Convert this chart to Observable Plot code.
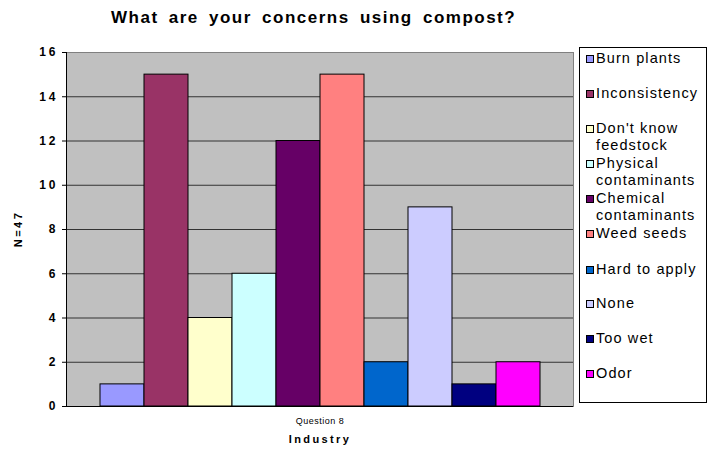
<!DOCTYPE html>
<html>
<head>
<meta charset="utf-8">
<script src="https://cdn.jsdelivr.net/npm/d3@7"></script>
<script src="https://cdn.jsdelivr.net/npm/@observablehq/plot@0.6"></script>
<style>
  html, body { margin: 0; padding: 0; background: white; }
  #wrap { position: relative; width: 715px; height: 449px; font-family: "Liberation Sans", Arial, sans-serif; }
  #chart { position: absolute; left: 0; top: 0; }
  .title { position: absolute; left: 111px; width: 400px; top: 8px; line-height: 20px; text-align: center; font-weight: bold; font-size: 17px; letter-spacing: 1.5px; word-spacing: 4px; white-space: nowrap; }
  .xcat { position: absolute; left: 280px; width: 80px; top: 416px; line-height: 11px; text-align: center; font-size: 9px; letter-spacing: 0.5px; }
  .xlabel { position: absolute; left: 270px; width: 100px; top: 433px; line-height: 13px; text-align: center; font-weight: bold; font-size: 11px; letter-spacing: 2.4px; }
  .ylabel { position: absolute; left: 18px; top: 229px; transform: translate(-50%, -50%) rotate(-90deg); font-weight: bold; font-size: 11px; letter-spacing: 2.5px; white-space: nowrap; }
  #legend { position: absolute; left: 579px; top: 47px; width: 128px; height: 356px; border: 1px solid #000; box-sizing: border-box; background: white; }
  .li { position: absolute; left: 6px; font-size: 14.5px; line-height: 17.5px; letter-spacing: 1.1px; color: #000; }
  .sw { position: absolute; left: 0; top: 5px; width: 6px; height: 6px; border: 1px solid #000; }
  .lt { margin-left: 10px; white-space: pre; }
</style>
</head>
<body>
<div id="wrap">
  <div id="chart"></div>
  <div class="title" id="title"></div>
  <div class="xcat" id="xcat"></div>
  <div class="xlabel" id="xlabel"></div>
  <div class="ylabel" id="ylabel"></div>
  <div id="legend"></div>
</div>
<script>
const titleText = "What are your concerns using compost?";
const questionLabel = "Question 8";
const xAxisTitle = "Industry";
const yAxisTitle = "N=47";
const categories = ["Burn plants", "Inconsistency", "Don't know feedstock", "Physical contaminants", "Chemical contaminants", "Weed seeds", "Hard to apply", "None", "Too wet", "Odor"];
const legendLines = [["Burn plants"], ["Inconsistency"], ["Don't know", "feedstock"], ["Physical", "contaminants"], ["Chemical", "contaminants"], ["Weed seeds"], ["Hard to apply"], ["None"], ["Too wet"], ["Odor"]];
const values = [1, 15, 4, 6, 12, 15, 2, 9, 1, 2];
const colors = ["#9999FF", "#993366", "#FFFFCC", "#CCFFFF", "#660066", "#FF8080", "#0066CC", "#CCCCFF", "#000080", "#FF00FF"];
const yTicks = [0, 2, 4, 6, 8, 10, 12, 14, 16];

const data = categories.map((c, i) => ({category: c, value: values[i]}));

const chart = Plot.plot({
  width: 715,
  height: 449,
  marginLeft: 66,
  marginRight: 142,
  marginTop: 52,
  marginBottom: 43,
  style: {background: "white", fontFamily: "'Liberation Sans', Arial, sans-serif", color: "#000"},
  x: {domain: categories, padding: 0, insetLeft: 33, insetRight: 33, axis: null},
  y: {domain: [0, 16], axis: null},
  color: {domain: categories, range: colors},
  marks: [
    Plot.frame({fill: "#C0C0C0", stroke: "#808080", strokeWidth: 1}),
    Plot.gridY(yTicks.filter(d => d > 0 && d < 16), {stroke: "#333", strokeOpacity: 1, strokeWidth: 1}),
    Plot.barY(data, {x: "category", y: "value", fill: "category", stroke: "#000", strokeWidth: 1}),
    Plot.frame({anchor: "left", stroke: "#000"}),
    Plot.ruleY([0], {stroke: "#000"}),
    Plot.axisY({ticks: yTicks, tickSize: 4, tickPadding: 4, fontWeight: "bold", fontSize: 12, label: null, tickFormat: d => String(d)})
  ]
});
document.getElementById("chart").appendChild(chart);
d3.select(chart).selectAll("text").style("letter-spacing", "3px");

document.getElementById("title").textContent = titleText;
document.getElementById("xcat").textContent = questionLabel;
document.getElementById("xlabel").textContent = xAxisTitle;
document.getElementById("ylabel").textContent = yAxisTitle;

const legendTops = [1.5, 36.5, 71.5, 106.5, 141.5, 176.5, 212.5, 246.5, 281.5, 316.5];
const legend = document.getElementById("legend");
legendLines.forEach((lines, i) => {
  const li = document.createElement("div");
  li.className = "li";
  li.style.top = legendTops[i] + "px";
  const sw = document.createElement("div");
  sw.className = "sw";
  sw.style.background = colors[i];
  li.appendChild(sw);
  const t = document.createElement("div");
  t.className = "lt";
  t.textContent = lines.join("\n");
  li.appendChild(t);
  legend.appendChild(li);
});
</script>
</body>
</html>
